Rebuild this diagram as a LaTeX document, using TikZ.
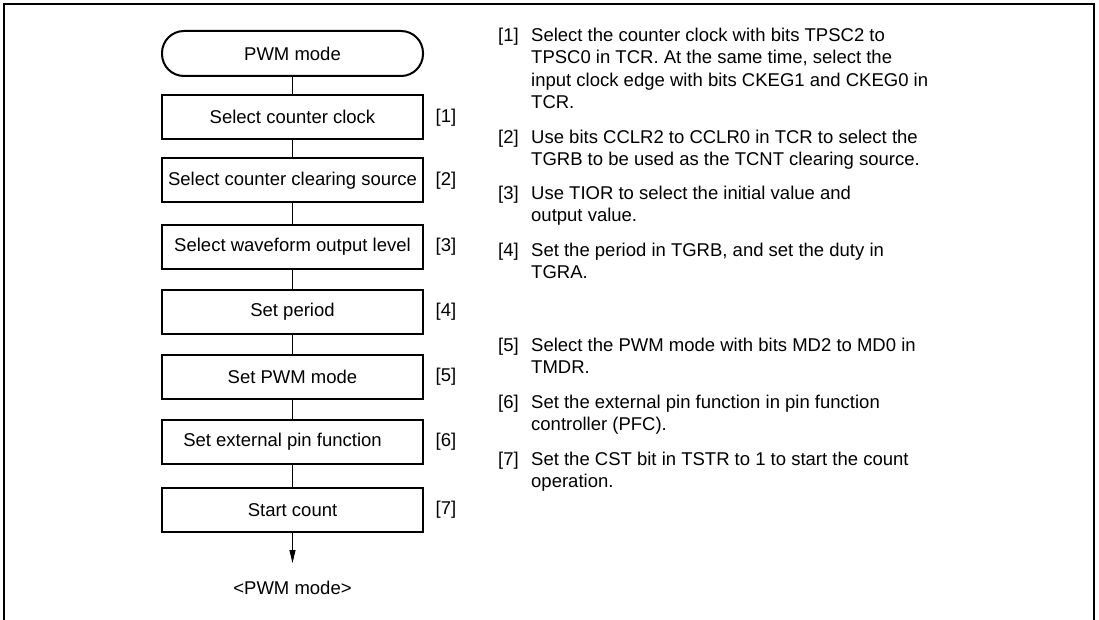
\documentclass[tikz,border=0pt]{standalone}
\usepackage{fontspec}
\setmainfont{Liberation Sans}
\usetikzlibrary{arrows.meta}
\begin{document}
\begin{tikzpicture}[x=1pt,y=-1pt,
  every node/.style={font=\fontsize{18.5}{22.5}\selectfont, inner sep=0pt},
  stepbox/.style={draw, line width=2pt, minimum width=261pt, minimum height=44pt},
  termbox/.style={draw, line width=2pt, rounded corners=22pt, minimum width=261pt, minimum height=45pt},
  conn/.style={line width=0.9pt},
  tag/.style={anchor=center},
  desc/.style={anchor=base west}]
\useasboundingbox (0,0) rectangle (1099,620);
\draw[line width=2pt] (4,640) -- (4,4) -- (1094,4) -- (1094,640);

\node[termbox] (start) at (292.5,53.5) {PWM mode};
\node[stepbox] (s1) at (292.5,117) {Select counter clock};
\node[stepbox] (s2) at (292.5,180.5) {Select counter clearing source};
\node[stepbox] (s3) at (292.5,247) {Select waveform output level};
\node[stepbox] (s4) at (292.5,312) {Set period};
\node[stepbox] (s5) at (292.5,376.5) {Set PWM mode};
\node[stepbox] (s6) at (292.5,442) {\hspace*{-20pt}Set external pin function};
\node[stepbox] (s7) at (292.5,510) {Start count};
\node (endl) at (292.5,588) {<PWM mode>};
\coordinate (tip) at (292.5,563);

\draw[conn] (start) -- (s1);
\draw[conn] (s1) -- (s2);
\draw[conn] (s2) -- (s3);
\draw[conn] (s3) -- (s4);
\draw[conn] (s4) -- (s5);
\draw[conn] (s5) -- (s6);
\draw[conn] (s6) -- (s7);
\draw[conn, -{Triangle[length=13pt,width=6pt]}] (s7) -- (tip);

\node[tag] (l1) at (446,118) {[1]};
\node[tag] (l2) at (446,181) {[2]};
\node[tag] (l3) at (446,247) {[3]};
\node[tag] (l4) at (446,312) {[4]};
\node[tag] (l5) at (446,377) {[5]};
\node[tag] (l6) at (446,442) {[6]};
\node[tag] (l7) at (446,510) {[7]};

\node[desc] (n1) at (498,42) {[1]};
\node[desc] (d1a) at (531,42) {Select the counter clock with bits TPSC2 to};
\node[desc] (d1b) at (531,64) {TPSC0 in TCR. At the same time, select the};
\node[desc] (d1c) at (531,86.5) {input clock edge with bits CKEG1 and CKEG0 in};
\node[desc] (d1d) at (531,108.5) {TCR.};

\node[desc] (n2) at (498,143.5) {[2]};
\node[desc] (d2a) at (531,143.5) {Use bits CCLR2 to CCLR0 in TCR to select the};
\node[desc] (d2b) at (531,165.5) {TGRB to be used as the TCNT clearing source.};

\node[desc] (n3) at (498,200) {[3]};
\node[desc] (d3a) at (531,200) {Use TIOR to select the initial value and};
\node[desc] (d3b) at (531,222) {output value.};

\node[desc] (n4) at (498,256.5) {[4]};
\node[desc] (d4a) at (531,256.5) {Set the period in TGRB, and set the duty in};
\node[desc] (d4b) at (531,278.5) {TGRA.};

\node[desc] (n5) at (498,351.5) {[5]};
\node[desc] (d5a) at (531,351.5) {Select the PWM mode with bits MD2 to MD0 in};
\node[desc] (d5b) at (531,373.5) {TMDR.};

\node[desc] (n6) at (498,408.5) {[6]};
\node[desc] (d6a) at (531,408.5) {Set the external pin function in pin function};
\node[desc] (d6b) at (531,430.5) {controller (PFC).};

\node[desc] (n7) at (498,465) {[7]};
\node[desc] (d7a) at (531,465) {Set the CST bit in TSTR to 1 to start the count};
\node[desc] (d7b) at (531,487) {operation.};
\end{tikzpicture}
\end{document}
